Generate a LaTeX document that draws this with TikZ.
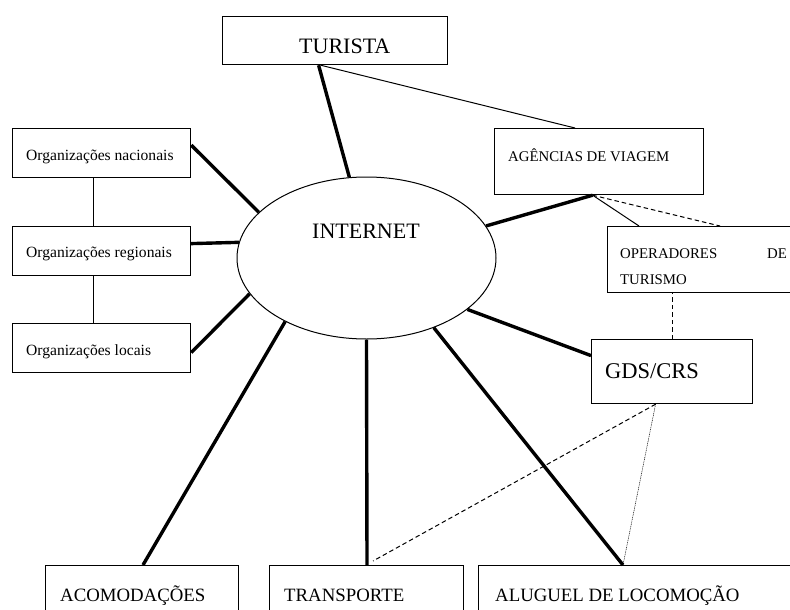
\documentclass[tikz,border=0pt]{standalone}
\usepackage{fontspec}
\setmainfont{Liberation Serif}
\usetikzlibrary{calc,shapes.geometric}
\begin{document}
\begin{tikzpicture}[x=1pt,y=-1pt,
  box/.style={draw, line width=1.2pt, inner sep=0pt, anchor=north west},
  heavy/.style={line width=3.4pt},
  light/.style={line width=1pt},
  dashline/.style={line width=1pt, dash pattern=on 4.5pt off 3pt},
  dotline/.style={line width=0.5pt, dash pattern=on 1pt off 0.8pt},
  lbl/.style={anchor=base west, inner sep=0pt},
  big/.style={font=\fontsize{22}{25}\selectfont},
  gdsf/.style={font=\fontsize{22.5}{25}\selectfont},
  mid/.style={font=\fontsize{18.8}{21}\selectfont},
  small/.style={font=\fontsize{14.8}{17}\selectfont},
  org/.style={font=\fontsize{15.6}{18}\selectfont}]
\useasboundingbox (0,0) rectangle (790,610);
\clip (0,0) rectangle (790,610);
\fill[white] (0,0) rectangle (790,610);

% boxes
\node[box, minimum width=225pt, minimum height=48pt] (turista) at (222,16) {};
\node[box, minimum width=209pt, minimum height=66pt] (agencias) at (494,128) {};
\node[box, minimum width=200pt, minimum height=66pt] (operadores) at (607,226) {};
\node[box, minimum width=161pt, minimum height=64pt] (gds) at (591,339) {};
\node[box, minimum width=178pt, minimum height=49pt] (nac) at (12,128) {};
\node[box, minimum width=178pt, minimum height=49pt] (reg) at (12,226) {};
\node[box, minimum width=178pt, minimum height=49pt] (loc) at (12,323) {};
\node[box, minimum width=193pt, minimum height=70pt] (acom) at (45,565) {};
\node[box, minimum width=194pt, minimum height=70pt] (transp) at (269,565) {};
\node[box, minimum width=330pt, minimum height=70pt] (alug) at (478,565) {};

% ellipse
\node[draw, ellipse, line width=1pt, minimum width=259pt, minimum height=162pt, inner sep=0pt] (inet) at (366.5,258) {};

% texts
\node[lbl, big] (tTur) at (299,54) {TURISTA};
\node[lbl, big] (tInet) at (312,238) {INTERNET};
\node[lbl, small] (tAg) at (508,161) {AGÊNCIAS DE VIAGEM};
\node[lbl, small] (tOp1) at (620,258) {OPERADORES};
\node[lbl, small] (tOp2) at (767,258) {DE};
\node[lbl, small] (tOp3) at (620,284) {TURISMO};
\node[lbl, gdsf] (tGds) at (605,378) {GDS/CRS};
\node[lbl, org] (tNac) at (26,160) {Organizações nacionais};
\node[lbl, org] (tReg) at (26,257) {Organizações regionais};
\node[lbl, org] (tLoc) at (26,355) {Organizações locais};
\node[lbl, mid] (tAcom) at (60,601) {ACOMODAÇÕES};
\node[lbl, mid] (tTransp) at (284,601) {TRANSPORTE};
\node[lbl, mid] (tAlug) at (495,601) {ALUGUEL DE LOCOMOÇÃO};

% heavy connectors to INTERNET
\draw[heavy] ($(turista.south)+(-16.5,0)$) -- (inet.102);
\draw[heavy] ($(nac.east)+(0,-8)$) -- (inet.157);
\draw[heavy] ($(reg.east)+(0,-7.5)$) -- (inet.173);
\draw[heavy] ($(loc.east)+(0,4.5)$) -- (inet.197);
\draw[heavy] ($(agencias.south)+(-6.5,0)$) -- (inet.15.7);
\draw[heavy] ($(gds.west)+(0,-16)$) -- (inet.333.6);
\draw[heavy] ($(alug.north west)+(145,0)$) -- (inet.314.8);
\draw[heavy] ($(transp.north west)+(98,0)$) -- (inet.270);
\draw[heavy] ($(acom.north west)+(98,0)$) -- (inet.218.6);

% thin connectors
\draw[light] ($(turista.south)+(-14.5,0)$) -- ($(agencias.north west)+(81,0)$);
\draw[light] ($(agencias.south)+(-6.5,0)$) -- ($(operadores.north west)+(32,0)$);
\draw[dashline] ($(agencias.south)+(-6.5,0)$) -- ($(operadores.north west)+(113,0)$);
\draw[dashline] (gds.north) -- (gds.north |- operadores.south);
\draw[light] ($(nac.south)+(-8,0)$) -- ($(reg.north)+(-8,0)$);
\draw[light] ($(reg.south)+(-8,0)$) -- ($(loc.north)+(-8,0)$);
\draw[dashline] ($(gds.south)+(-16.5,0)$) -- ($(transp.north west)+(104,-4)$);
\draw[dotline] ($(gds.south)+(-16.5,0)$) -- ($(alug.north west)+(145,0)$);
\end{tikzpicture}
\end{document}
